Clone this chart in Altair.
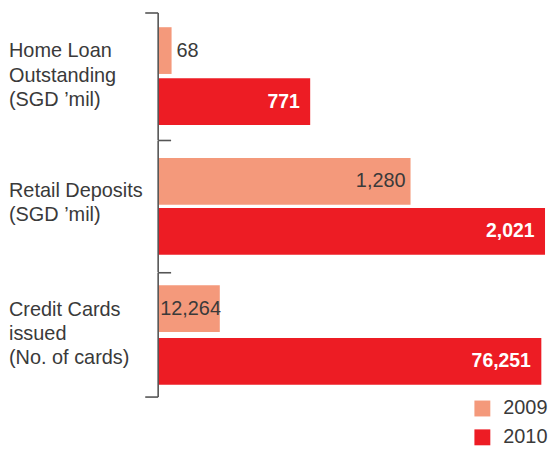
import altair as alt
import pandas as pd

# ---- data ----
category_lines = [
    ["Home Loan", "Outstanding", "(SGD ’mil)"],
    ["Retail Deposits", "(SGD ’mil)"],
    ["Credit Cards", "issued", "(No. of cards)"],
]
years = ["2009", "2010"]
values_2009 = [68, 1280, 12264]
values_2010 = [771, 2021, 76251]

# ---- styling / layout ----
colors = ["#F4997B", "#ED1C24"]
text_color = "#3a3a3a"
axis_color = "#555555"
font = "Liberation Sans"
plot_width = 389
scale_max = [1962, 1962, 76985]          # per-panel x-scale domain (cats 1-2 share units)
panel_heights = [128.5, 132.5, 125]
band_padding = [(0.084, 0.294), (0.066, 0.35), (0.113, 0.236)]
label_center = [63.8, 63.0, 61.5]
line_height = 24.5
label_mode_2009 = ["outside", "inside", "start"]

panels = []
for i in range(3):
    H = panel_heights[i]
    df = pd.DataFrame({"year": years, "value": [values_2009[i], values_2010[i]]})
    pin, pout = band_padding[i]
    xscale = alt.Scale(domain=[0, scale_max[i]], nice=False, clamp=True)
    yenc = alt.Y("year:N", scale=alt.Scale(domain=years, paddingInner=pin, paddingOuter=pout), axis=None)
    xenc = alt.X("value:Q", scale=xscale, axis=None)

    if i == 2:
        legend = alt.Legend(
            title=None, orient="none", legendX=316, legendY=126.5, direction="vertical",
            symbolType="square", symbolSize=256, symbolStrokeWidth=0, symbolOpacity=1,
            labelFontSize=20, labelFont=font, labelColor=text_color, labelOffset=11,
            rowPadding=9, padding=0,
        )
    else:
        legend = None
    bars = alt.Chart(df).mark_bar().encode(
        y=yenc, x=xenc,
        color=alt.Color("year:N", scale=alt.Scale(domain=years, range=colors), legend=legend),
    )

    mode = label_mode_2009[i]
    d09 = df[df["year"] == "2009"].assign(zero=0)
    if mode == "outside":
        lab09 = alt.Chart(d09).mark_text(align="left", baseline="middle", dx=5, fontSize=20,
                                         font=font, color=text_color).encode(
            y=yenc, x=xenc, text=alt.Text("value:Q", format=","))
    elif mode == "inside":
        lab09 = alt.Chart(d09).mark_text(align="right", baseline="middle", dx=-5, fontSize=20,
                                         font=font, color=text_color).encode(
            y=yenc, x=xenc, text=alt.Text("value:Q", format=","))
    else:
        lab09 = alt.Chart(d09).mark_text(align="left", baseline="middle", dx=2, fontSize=20,
                                         font=font, color=text_color).encode(
            y=yenc, x=alt.X("zero:Q", scale=xscale, axis=None), text=alt.Text("value:Q", format=","))

    d10 = df[df["year"] == "2010"]
    lab10 = alt.Chart(d10).mark_text(
        align="right", baseline="middle", dx=-10.5, fontSize=19.5, fontWeight="bold", font=font, color="white"
    ).encode(y=yenc, x=xenc, text=alt.Text("value:Q", format=","))

    n_lines = len(category_lines[i])
    cat_df = pd.DataFrame({"label": ["\n".join(category_lines[i])]})
    cat = alt.Chart(cat_df).mark_text(
        align="left", baseline="middle", lineBreak="\n", fontSize=20, lineHeight=line_height,
        font=font, color=text_color,
    ).encode(x=alt.value(-150), y=alt.value(label_center[i] - (n_lines - 1) * line_height / 2),
             text="label:N")

    one = alt.Chart(cat_df)
    layers = [bars, lab09, lab10, cat]
    top = 0.8 if i == 0 else 0
    if i == 0:
        layers.append(one.mark_rule(color=axis_color, strokeWidth=1.6).encode(
            x=alt.value(-13), x2=alt.value(0), y=alt.value(0.8)))
    else:
        layers.append(one.mark_rule(color=axis_color, strokeWidth=1.6).encode(
            x=alt.value(0), x2=alt.value(13), y=alt.value(0)))
    if i == 2:
        layers.append(one.mark_rule(color=axis_color, strokeWidth=1.6).encode(
            x=alt.value(-13), x2=alt.value(0), y=alt.value(H)))
    layers.append(one.mark_rule(color=axis_color, strokeWidth=1.6).encode(
        x=alt.value(0), y=alt.value(top), y2=alt.value(H)))
    panels.append(alt.layer(*layers).properties(width=plot_width, height=H))

chart = alt.vconcat(*panels, spacing=0, bounds="flush").resolve_legend(color="independent").properties(
    padding={"left": 1, "top": 3, "right": 0, "bottom": 0}
).configure_view(stroke=None)

chart.save("out.html", embed_options={"renderer": "svg", "actions": False})
